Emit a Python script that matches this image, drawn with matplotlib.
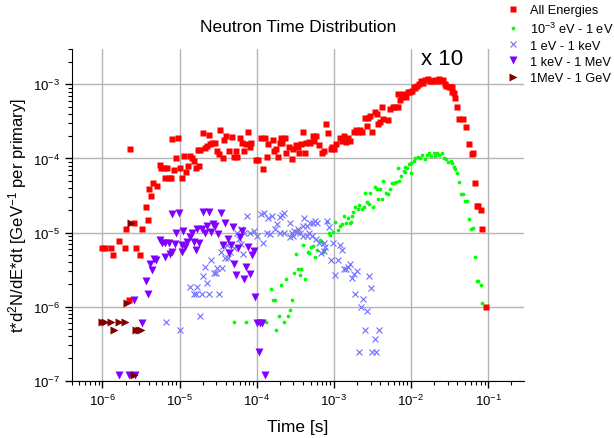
import matplotlib
matplotlib.use("Agg")
import matplotlib.pyplot as plt
from matplotlib.ticker import LogLocator, NullFormatter

plt.rcParams['font.family'] = ['Liberation Sans', 'DejaVu Sans']
plt.rcParams['mathtext.fontset'] = 'custom'
plt.rcParams['mathtext.rm'] = 'Liberation Sans'
plt.rcParams['mathtext.it'] = 'Liberation Sans:italic'

# All Energies (red squares)
all_t = [1.0e-6, 1.09e-6, 1.3e-6, 1.37e-6, 1.62e-6, 1.94e-6, 2.04e-6, 2.72e-6, 3.07e-6, 3.23e-6,
         2.19e-6, 2.3e-6, 2.59e-6, 3.86e-6, 3.64e-6, 4.3e-6, 4.05e-6, 4.57e-6, 5.1e-6, 5.5e-6,
         5.8e-6, 6.3e-6, 6.9e-6, 6.5e-6, 7.4e-6, 7.8e-6, 8.6e-6, 8.1e-6, 9.6e-6, 9.1e-6,
         1.0e-5, 1.09e-5, 1.21e-5, 1.14e-5, 1.28e-5, 1.36e-5, 1.44e-5, 1.53e-5, 1.62e-5, 1.81e-5,
         1.72e-5, 1.86e-5, 2.0e-5, 2.14e-5, 2.3e-5, 2.44e-5, 2.46e-5, 2.64e-5, 2.87e-5, 3.04e-5,
         3.23e-5, 3.39e-5, 3.64e-5, 3.81e-5, 4.05e-5, 4.36e-5, 4.85e-5, 5.1e-5, 5.5e-5, 5.4e-5,
         6.1e-5, 6.4e-5, 6.8e-5, 7.2e-5, 7.7e-5, 8.1e-5, 8.5e-5, 9.8e-5, 1.05e-4, 1.2e-4,
         1.14e-4, 1.29e-4, 1.36e-4, 1.42e-4, 1.62e-4, 1.7e-4, 1.78e-4, 1.88e-4, 2.04e-4, 2.02e-4,
         2.16e-4, 2.3e-4, 2.4e-4, 2.59e-4, 2.87e-4, 3.0e-4, 3.23e-4, 3.43e-4, 3.57e-4, 3.78e-4,
         4.0e-4, 4.17e-4, 4.4e-4, 4.7e-4, 4.95e-4, 5.3e-4, 5.6e-4, 5.9e-4, 6.5e-4, 7.0e-4,
         7.5e-4, 8.0e-4, 8.5e-4, 9.1e-4, 9.5e-4, 1.0e-3, 1.08e-3, 1.2e-3, 1.28e-3, 1.37e-3,
         1.44e-3, 1.53e-3, 1.64e-3, 1.81e-3, 1.94e-3, 2.06e-3, 2.19e-3, 2.34e-3, 2.51e-3, 2.72e-3,
         2.77e-3, 2.95e-3, 3.13e-3, 3.39e-3, 3.67e-3, 3.78e-3, 4.0e-3, 4.23e-3, 4.4e-3, 5.1e-3,
         5.4e-3, 5.8e-3, 6.3e-3, 6.8e-3, 6.7e-3, 7.3e-3, 7.7e-3, 8.0e-3, 8.7e-3, 9.2e-3,
         9.85e-3, 1.04e-2, 1.09e-2, 1.14e-2, 1.2e-2, 1.29e-2, 1.36e-2, 1.44e-2, 1.54e-2, 1.65e-2,
         1.75e-2, 1.88e-2, 2.04e-2, 2.14e-2, 2.3e-2, 2.44e-2, 2.59e-2, 2.75e-2, 2.89e-2, 3.1e-2,
         3.26e-2, 3.43e-2, 3.36e-2, 3.6e-2, 3.7e-2, 3.93e-2, 4.17e-2, 4.7e-2, 5.1e-2, 5.6e-2,
         6.1e-2, 6.4e-2, 6.7e-2, 7.1e-2, 7.5e-2, 8.0e-2, 8.4e-2, 9.5e-2]
all_y = [6.2e-6, 6.2e-6, 6.2e-6, 5.0e-6, 7.6e-6, 6.2e-6, 1.12e-5, 6.2e-6, 5.0e-6, 1.12e-5,
         1.24e-6, 1.36e-4, 1.36e-5, 1.5e-5, 2.24e-5, 3.1e-5, 3.85e-5, 4.6e-5, 4.2e-5, 8.1e-5,
         7.4e-5, 7.4e-5, 7.4e-5, 5.4e-5, 5.4e-5, 5.4e-5, 7.0e-5, 1.82e-4, 1.88e-4, 1.0e-4,
         7.4e-5, 5.5e-5, 6.5e-5, 1.07e-4, 7.9e-5, 1.07e-4, 1.0e-4, 9.2e-5, 7.4e-5, 7.9e-5,
         1.31e-4, 1.31e-4, 2.2e-4, 1.38e-4, 1.48e-4, 2.1e-4, 1.55e-4, 1.62e-4, 1.6e-4, 1.27e-4,
         1.14e-4, 2.4e-4, 1.02e-4, 1.78e-4, 2.0e-4, 1.27e-4, 1.94e-4, 1.06e-4, 1.06e-4, 1.27e-4,
         1.88e-4, 1.6e-4, 1.27e-4, 1.56e-4, 2.3e-4, 1.41e-4, 1.6e-4, 9.4e-5, 9.4e-5, 7.3e-5,
         1.88e-4, 1.88e-4, 1.06e-4, 1.55e-4, 1.78e-4, 1.27e-4, 1.36e-4, 1.06e-4, 1.88e-4, 1.6e-4,
         1.6e-4, 1.88e-4, 1.2e-4, 1.41e-4, 9.8e-5, 1.36e-4, 1.51e-4, 1.41e-4, 1.17e-4, 1.56e-4,
         2.25e-4, 1.17e-4, 1.6e-4, 1.68e-4, 1.6e-4, 1.98e-4, 1.7e-4, 1.98e-4, 1.53e-4, 1.17e-4,
         1.27e-4, 2.9e-4, 2.2e-4, 1.36e-4, 1.41e-4, 1.36e-4, 1.56e-4, 1.88e-4, 1.7e-4, 1.98e-4,
         1.68e-4, 1.88e-4, 1.73e-4, 2.25e-4, 2.4e-4, 2.3e-4, 2.4e-4, 2.3e-4, 3.5e-4, 2.76e-4,
         3.5e-4, 3.7e-4, 2.3e-4, 4.26e-4, 3.97e-4, 2.9e-4, 3.06e-4, 4.9e-4, 3.4e-4, 3.3e-4,
         4.6e-4, 5.0e-4, 5.0e-4, 5.0e-4, 7.4e-4, 6.2e-4, 6.8e-4, 7.4e-4, 6.7e-4, 7.8e-4,
         7.8e-4, 8.2e-4, 9.1e-4, 8.9e-4, 9.6e-4, 1.01e-3, 1.1e-3, 1.03e-3, 1.14e-3, 1.2e-3,
         1.1e-3, 1.12e-3, 1.14e-3, 1.12e-3, 1.2e-3, 1.1e-3, 1.14e-3, 1.01e-3, 9.6e-4, 9.3e-4,
         9.3e-4, 9.3e-4, 7.8e-4, 7.6e-4, 6.5e-4, 4.9e-4, 3.4e-4, 3.4e-4, 2.67e-4, 1.56e-4,
         1.14e-4, 1.2e-4, 4.7e-5, 2.29e-5, 2.25e-5, 2.0e-5, 1.13e-5, 1.0e-6]

# 10^-3 eV - 1 eV (green dots)
thermal_t = [5.1e-5, 7.2e-5, 1.32e-4, 1.53e-4, 1.65e-4, 1.74e-4, 1.79e-4, 1.92e-4, 2.04e-4, 2.28e-4,
             2.4e-4, 2.54e-4, 2.67e-4, 2.87e-4, 3.04e-4, 3.19e-4, 3.43e-4, 3.81e-4, 3.6e-4, 4.27e-4,
             4.0e-4, 4.57e-4, 4.8e-4, 5.1e-4, 5.4e-4, 5.75e-4, 6.0e-4, 6.7e-4, 7.0e-4, 7.2e-4,
             7.5e-4, 8.1e-4, 8.6e-4, 9.0e-4, 9.9e-4, 1.05e-3, 1.12e-3, 1.21e-3, 1.28e-3, 1.34e-3,
             1.44e-3, 1.53e-3, 1.6e-3, 1.69e-3, 1.72e-3, 1.78e-3, 1.9e-3, 2.04e-3, 2.14e-3, 2.32e-3,
             2.44e-3, 2.51e-3, 2.7e-3, 2.83e-3, 2.92e-3, 3.19e-3, 3.39e-3, 3.64e-3, 3.75e-3, 4.0e-3,
             4.23e-3, 4.4e-3, 4.76e-3, 5.1e-3, 5.3e-3, 5.7e-3, 6.0e-3, 6.4e-3, 6.8e-3, 7.1e-3,
             7.5e-3, 8.1e-3, 8.3e-3, 8.5e-3, 8.9e-3, 9.4e-3, 1.0e-2, 1.01e-2, 1.09e-2, 1.14e-2,
             1.24e-2, 1.33e-2, 1.4e-2, 1.5e-2, 1.62e-2, 1.7e-2, 1.83e-2, 1.98e-2, 2.08e-2, 2.19e-2,
             2.34e-2, 2.54e-2, 2.67e-2, 2.87e-2, 3.04e-2, 3.26e-2, 3.43e-2, 3.6e-2, 3.78e-2, 3.98e-2,
             4.23e-2, 4.5e-2, 4.76e-2, 5.0e-2, 5.3e-2, 5.6e-2, 6.0e-2, 6.3e-2, 6.7e-2, 7.1e-2,
             7.5e-2, 8.0e-2, 8.4e-2]
thermal_y = [6.2e-7, 6.2e-7, 6.2e-7, 1.75e-6, 1.23e-6, 1.23e-6, 4.9e-7, 7.4e-7, 1.98e-6, 6.2e-7,
             2.39e-6, 7.4e-7, 8.9e-7, 1.23e-6, 2.88e-6, 5.1e-6, 3.26e-6, 3.26e-6, 2.7e-6, 2.36e-6,
             6.8e-6, 5.4e-6, 5.25e-6, 6.4e-6, 6.5e-6, 4.7e-6, 5.9e-6, 7.9e-6, 7.5e-6, 5.4e-6,
             5.9e-6, 1.39e-5, 9.8e-6, 9.2e-6, 1.03e-5, 1.39e-5, 1.08e-5, 1.23e-5, 1.29e-5, 1.68e-5,
             1.34e-5, 1.55e-5, 1.36e-5, 1.39e-5, 1.65e-5, 1.9e-5, 2.24e-5, 2.07e-5, 2.34e-5, 2.11e-5,
             2.18e-5, 3.47e-5, 2.59e-5, 2.41e-5, 3.4e-5, 2.24e-5, 4.1e-5, 3.85e-5, 2.82e-5, 3.93e-5,
             2.82e-5, 4.9e-5, 3.4e-5, 3.3e-5, 3.93e-5, 4.6e-5, 4.6e-5, 4.8e-5, 7.4e-5, 4.9e-5,
             5.8e-5, 6.8e-5, 7.7e-5, 6.5e-5, 7.4e-5, 8.4e-5, 6.3e-5, 8.8e-5, 9.3e-5, 1.01e-4,
             1.05e-4, 1.03e-4, 1.12e-4, 9.8e-5, 1.12e-4, 1.2e-4, 1.08e-4, 1.17e-4, 1.08e-4, 1.2e-4,
             1.12e-4, 1.17e-4, 1.03e-4, 9.8e-5, 9.1e-5, 9.3e-5, 8.8e-5, 7.6e-5, 7.2e-5, 6.3e-5,
             4.8e-5, 3.3e-5, 3.3e-5, 2.67e-5, 2.63e-5, 1.51e-5, 1.11e-5, 1.14e-5, 4.7e-6, 2.24e-6,
             2.24e-6, 1.98e-6, 1.11e-6]

# 1 eV - 1 keV (blue crosses)
epi_t = [6.6e-6, 1.02e-5, 1.36e-5, 1.7e-5, 1.56e-5, 1.64e-5, 1.96e-5, 2.44e-5, 3.23e-5, 1.83e-5,
         2.04e-5, 2.3e-5, 2.16e-5, 2.59e-5, 2.8e-5, 2.98e-5, 3.1e-5, 3.6e-5, 3.43e-5, 3.67e-5,
         3.93e-5, 4.27e-5, 4.14e-5, 4.57e-5, 5.1e-5, 5.5e-5, 5.9e-5, 6.3e-5, 6.7e-5, 6.9e-5,
         7.6e-5, 8.1e-5, 9.1e-5, 1.0e-4, 1.13e-4, 1.25e-4, 1.42e-4, 1.5e-4, 1.57e-4, 1.83e-4,
         1.98e-4, 2.12e-4, 2.23e-4, 2.28e-4, 2.67e-4, 2.87e-4, 3.07e-4, 3.33e-4, 3.6e-4, 3.98e-4,
         4.49e-4, 4.95e-4, 5.4e-4, 5.75e-4, 6.0e-4, 4.7e-4, 6.3e-5, 1.22e-4, 1.36e-4, 1.74e-4,
         2.72e-4, 3.93e-4, 4.45e-4, 5.2e-4, 5.9e-4, 6.5e-4, 7.4e-4, 7.8e-4, 6.9e-4, 7.5e-4,
         8.6e-4, 9.7e-4, 9.2e-4, 1.14e-3, 1.21e-3, 1.28e-3, 1.34e-3, 1.44e-3, 1.53e-3, 1.64e-3,
         1.72e-3, 1.81e-3, 2.0e-3, 1.05e-3, 2.89e-3, 1.9e-3, 2.37e-3, 3.0e-3, 2.28e-3, 2.72e-3,
         2.52e-3, 3.81e-3, 3.39e-3, 2.14e-3, 3.13e-3, 3.53e-3, 2.02e-4, 4.05e-4, 8.1e-4, 2.92e-4,
         3.43e-4]
epi_y = [6.2e-7, 4.9e-7, 1.86e-6, 1.86e-6, 1.48e-6, 1.48e-6, 1.48e-6, 1.48e-6, 1.48e-6, 7.4e-7,
         2.59e-6, 2.11e-6, 3.47e-6, 4.26e-6, 2.88e-6, 2.88e-6, 3.3e-6, 3.37e-6, 5.4e-6, 6.6e-6,
         4.6e-6, 4.6e-6, 6.8e-6, 5.4e-6, 6.1e-6, 1.0e-5, 8.3e-6, 7.1e-6, 5.1e-6, 1.0e-5,
         1.68e-5, 1.0e-5, 1.05e-5, 9.0e-6, 1.77e-5, 1.82e-5, 1.55e-5, 9.5e-6, 1.68e-5, 1.29e-5,
         9.8e-6, 1.71e-5, 1.82e-5, 9.8e-6, 1.36e-5, 9.8e-6, 1.05e-5, 1.03e-5, 9.8e-6, 1.23e-5,
         1.23e-5, 1.34e-5, 1.36e-5, 1.43e-5, 1.36e-5, 9.8e-6, 1.11e-5, 7.2e-6, 9.8e-6, 1.11e-5,
         8.6e-6, 9.0e-6, 9.0e-6, 9.0e-6, 8.1e-6, 7.3e-6, 7.3e-6, 6.3e-6, 5.25e-6, 5.65e-6,
         1.19e-5, 7.3e-6, 4.26e-6, 4.26e-6, 6.8e-6, 5.9e-6, 3.19e-6, 3.19e-6, 3.43e-6, 3.73e-6,
         2.41e-6, 2.73e-6, 3.03e-6, 2.67e-6, 2.59e-6, 1.5e-6, 1.25e-6, 1.77e-6, 9.9e-7, 8.6e-7,
         4.9e-7, 4.9e-7, 3.7e-7, 2.46e-7, 2.46e-7, 2.46e-7, 1.6e-5, 1.55e-5, 1.43e-5, 9.0e-6,
         1.11e-5]

# 1 keV - 1 MeV (purple down triangles)
fast_t = [8.1e-6, 9.7e-6, 2.02e-5, 2.42e-5, 3.43e-5, 9.1e-6, 1.1e-5, 1.44e-5, 1.7e-5, 1.98e-5,
          2.3e-5, 2.7e-5, 2.87e-5, 2.14e-5, 2.54e-5, 3.13e-5, 3.9e-5, 4.9e-5, 6.5e-5, 5.5e-6,
          5.9e-6, 6.5e-6, 7.2e-6, 8.7e-6, 1.07e-5, 1.24e-5, 1.37e-5, 1.54e-5, 1.81e-5, 1.64e-5,
          1.08e-5, 1.19e-5, 8.0e-6, 7.5e-6, 6.5e-6, 4.14e-6, 4.67e-6, 5.0e-6, 4.33e-6, 3.67e-6,
          3.9e-6, 2.59e-6, 3.26e-6, 3.64e-5, 4.6e-5, 4.4e-5, 5.1e-5, 5.4e-5, 6.9e-5, 7.2e-5,
          8.1e-5, 7.7e-5, 9.1e-5, 8.6e-5, 9.5e-5, 1.02e-4, 1.09e-4, 1.18e-4, 1.08e-4, 1.29e-4,
          1.63e-6, 2.19e-6, 2.68e-6, 4.3e-5, 6.1e-5, 5.8e-5]
fast_y = [1.77e-5, 1.82e-5, 1.88e-5, 1.88e-5, 1.82e-5, 1.0e-5, 1.05e-5, 1.0e-5, 1.11e-5, 1.11e-5,
          1.23e-5, 1.29e-5, 1.23e-5, 1.0e-5, 1.03e-5, 9.7e-6, 1.34e-5, 1.2e-5, 1.05e-5, 7.9e-6,
          7.3e-6, 7.3e-6, 7.3e-6, 6.9e-6, 6.7e-6, 7.5e-6, 8.6e-6, 7.5e-6, 7.3e-6, 5.8e-6,
          5.4e-6, 6.3e-6, 5.4e-6, 5.2e-6, 4.7e-6, 3.8e-6, 4.4e-6, 4.2e-6, 3.1e-6, 2.2e-6,
          1.47e-6, 1.22e-6, 6.1e-7, 6.8e-6, 6.8e-6, 5.3e-6, 3.8e-6, 2.65e-6, 2.34e-6, 3.4e-6,
          2.8e-6, 6.3e-6, 5.65e-6, 5.0e-6, 1.35e-6, 6.1e-7, 6.1e-7, 6.1e-7, 2.43e-7, 1.21e-7,
          1.21e-7, 1.21e-7, 1.21e-7, 8.1e-6, 8.6e-6, 6.1e-6]

# 1 MeV - 1 GeV (dark red right triangles)
he_t = [1.0e-6, 1.09e-6, 1.3e-6, 1.62e-6, 1.98e-6, 1.4e-6, 2.72e-6, 2.95e-6, 3.19e-6, 2.08e-6,
        2.33e-6, 2.59e-6]
he_y = [6.2e-7, 6.2e-7, 6.2e-7, 6.2e-7, 6.2e-7, 4.9e-7, 4.9e-7, 4.9e-7, 4.9e-7, 1.11e-6,
        1.36e-5, 1.2e-7]

labels = ['All Energies', '$10^{-3}$ eV - 1 eV', '1 eV - 1 keV', '1 keV - 1 MeV', '1MeV - 1 GeV']

fig = plt.figure(figsize=(6.14, 4.39), dpi=100)
ax = fig.add_axes([0.1168, 0.1305, 0.7362, 0.7555])

ax.plot(all_t, all_y, ls='none', marker='s', ms=4.0, color='#ff0000', mec='none', label=labels[0])
ax.plot(thermal_t, thermal_y, ls='none', marker='o', ms=2.7, color='#00ff00', mec='none', label=labels[1])
ax.plot(epi_t, epi_y, ls='none', marker='x', ms=4.6, mew=0.8, color='#6f6fff', label=labels[2])
ax.plot(fast_t, fast_y, ls='none', marker='v', ms=5.3, color='#8000ff', mec='none', label=labels[3])
ax.plot(he_t, he_y, ls='none', marker='>', ms=5.3, color='#800000', mec='none', label=labels[4])

ax.set_xscale('log')
ax.set_yscale('log')
ax.set_xlim(4e-7, 0.29)
ax.set_ylim(1e-7, 3e-3)

ax.xaxis.set_major_locator(LogLocator(base=10, numticks=20))
ax.xaxis.set_minor_locator(LogLocator(base=10, subs=range(2, 10), numticks=20))
ax.xaxis.set_minor_formatter(NullFormatter())
ax.yaxis.set_minor_formatter(NullFormatter())

ax.grid(True, which='major', color='#b4b4b4', lw=1.0)
ax.set_axisbelow(True)
for s in ['top', 'right']:
    ax.spines[s].set_visible(False)
ax.tick_params(which='major', direction='out', length=5, width=1, labelsize=9.5)
ax.tick_params(which='minor', direction='out', length=3, width=0.8)

ax.set_title('Neutron Time Distribution', fontsize=12.5, pad=13)
ax.set_xlabel('Time [s]', fontsize=12.5, labelpad=8)
ax.set_ylabel('t*d$^2$N/dE*dt [GeV$^{-1}$ per primary]', fontsize=12, labelpad=3)

ax.text(2.57e-2, 2.26e-3, 'x 10', fontsize=16, ha='center', va='center')

fig.legend(loc='upper left', bbox_to_anchor=(0.81, 1.008), frameon=False, fontsize=9.2,
           handlelength=1.0, handletextpad=0.85, labelspacing=0.32, borderpad=0.2)

fig.savefig('out.png', dpi=100)
